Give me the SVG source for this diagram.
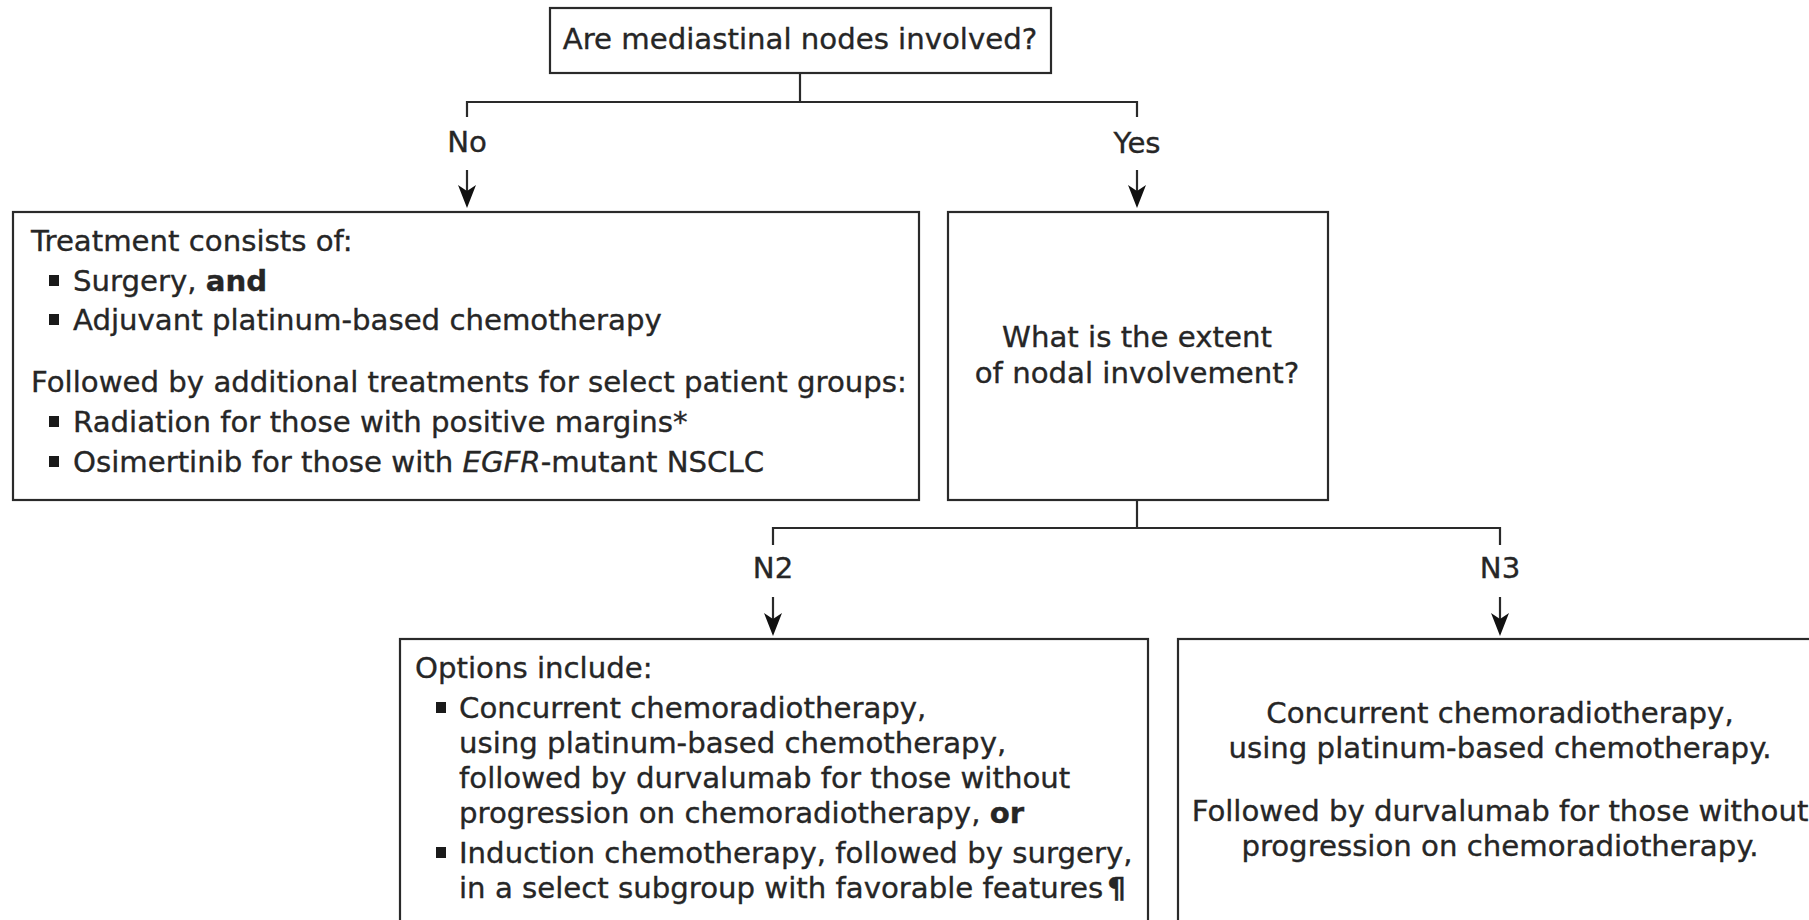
<svg xmlns="http://www.w3.org/2000/svg" width="1809" height="920" viewBox="0 0 1809 920">
<style>
  .box { fill: #ffffff; stroke: #2a2a2a; stroke-width: 2.2; }
  .ln { fill: none; stroke: #2a2a2a; stroke-width: 2.2; }
  .t { font-family: "DejaVu Sans", Verdana, sans-serif; font-size: 29.2px; fill: #262626; stroke: #262626; stroke-width: 0.35px; }
  .c { text-anchor: middle; }
  .b { font-weight: bold; }
  .i { font-style: italic; }
  .bul { fill: #1a1a1a; }
</style>
<defs>
  <marker id="arr" markerUnits="userSpaceOnUse" orient="auto" markerWidth="26" markerHeight="22" viewBox="-12 -11 26 22" refX="0" refY="0">
    <path d="M12,0 L-11,-9 L-5,0 L-11,9 Z" fill="#111"/>
  </marker>
</defs>
<rect width="1809" height="920" fill="#ffffff"/>

<g id="connectors">
  <line class="ln" x1="800" y1="73" x2="800" y2="102"/>
  <path class="ln" d="M467,117 V102 H1137 V117"/>
  <line class="ln" x1="467" y1="170" x2="467" y2="196" marker-end="url(#arr)"/>
  <line class="ln" x1="1137" y1="170" x2="1137" y2="196" marker-end="url(#arr)"/>
  <line class="ln" x1="1137" y1="500" x2="1137" y2="528"/>
  <path class="ln" d="M773,545 V528 H1500 V545"/>
  <line class="ln" x1="773" y1="597" x2="773" y2="624" marker-end="url(#arr)"/>
  <line class="ln" x1="1500" y1="597" x2="1500" y2="624" marker-end="url(#arr)"/>
  <text class="t c" x="467" y="152">No</text>
  <text class="t c" x="1137" y="153">Yes</text>
  <text class="t c" x="773" y="578">N2</text>
  <text class="t c" x="1500" y="578">N3</text>
</g>

<g id="node-top">
  <rect class="box" x="550" y="8" width="501" height="65"/>
  <text class="t c" x="800" y="49">Are mediastinal nodes involved?</text>
</g>

<g id="node-no">
  <rect class="box" x="13" y="212" width="906" height="288"/>
  <text class="t" x="31" y="251">Treatment consists of:</text>
  <rect class="bul" x="49" y="275" width="10" height="11"/>
  <text class="t" x="73" y="291">Surgery, <tspan class="b">and</tspan></text>
  <rect class="bul" x="49" y="314" width="10" height="11"/>
  <text class="t" x="73" y="330">Adjuvant platinum-based chemotherapy</text>
  <text class="t" x="31" y="392">Followed by additional treatments for select patient groups:</text>
  <rect class="bul" x="49" y="416" width="10" height="11"/>
  <text class="t" x="73" y="432">Radiation for those with positive margins*</text>
  <rect class="bul" x="49" y="456" width="10" height="11"/>
  <text class="t" x="73" y="472">Osimertinib for those with <tspan class="i">EGFR</tspan>-mutant NSCLC</text>
</g>

<g id="node-yes">
  <rect class="box" x="948" y="212" width="380" height="288"/>
  <text class="t c" x="1137" y="347">What is the extent</text>
  <text class="t c" x="1137" y="383">of nodal involvement?</text>
</g>

<g id="node-n2">
  <rect class="box" x="400" y="639" width="748" height="320"/>
  <text class="t" x="415" y="678">Options include:</text>
  <rect class="bul" x="436" y="702" width="10" height="11"/>
  <text class="t" x="459" y="718">Concurrent chemoradiotherapy,</text>
  <text class="t" x="459" y="753">using platinum-based chemotherapy,</text>
  <text class="t" x="459" y="788">followed by durvalumab for those without</text>
  <text class="t" x="459" y="823">progression on chemoradiotherapy, <tspan class="b">or</tspan></text>
  <rect class="bul" x="436" y="847" width="10" height="11"/>
  <text class="t" x="459" y="863">Induction chemotherapy, followed by surgery,</text>
  <text class="t" x="459" y="898">in a select subgroup with favorable features<tspan class="b" dx="4">¶</tspan></text>
</g>

<g id="node-n3">
  <rect class="box" x="1178" y="639" width="700" height="320"/>
  <text class="t c" x="1500" y="723">Concurrent chemoradiotherapy,</text>
  <text class="t c" x="1500" y="758">using platinum-based chemotherapy.</text>
  <text class="t c" x="1500" y="821">Followed by durvalumab for those without</text>
  <text class="t c" x="1500" y="856">progression on chemoradiotherapy.</text>
</g>
</svg>
